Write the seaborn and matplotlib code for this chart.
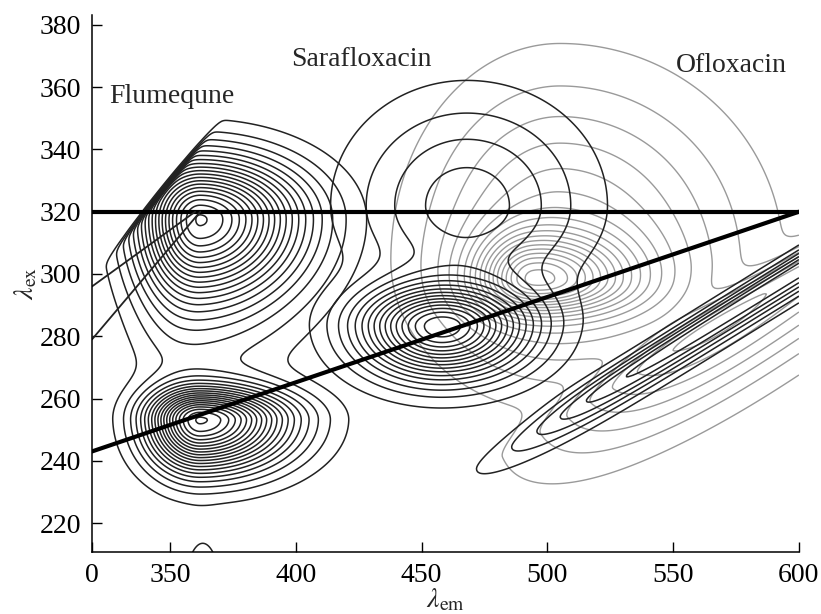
import matplotlib
matplotlib.use("Agg")
import matplotlib.pyplot as plt
import numpy as np
import seaborn as sns

# Peak parameters:
# (center em, center ex, height, sigma left, sigma right, sigma down, sigma up)
flu_peaks = [
    (362, 318, 98, 16, 27, 17, 13),    # Flumequne, upper band
    (362, 253, 98, 14, 24, 11, 7),     # Flumequne, lower band
    (355, 285, 10, 15, 30, 20, 20),    # weak base joining both bands
    (363, 200, 12, 5, 5, 10, 10),      # small bump at bottom edge
]
sara_peaks = [
    (458, 283, 82, 22, 23, 11, 9),     # Sarafloxacin, main
    (468, 322, 23, 31, 32, 18, 23),    # Sarafloxacin, broad upper band
]
oflo_peaks = [
    (494, 298, 60, 15, 25, 7, 10),     # Ofloxacin core
    (505, 305, 35, 34, 45, 25, 35),    # Ofloxacin broad base
]
# second-order scatter ridge (em = 2 ex):
# height, onset em, onset width, sigma below, sigma above, offset
sara_ridge = (34, 500, 16, 5.5, 4, 1.5)
oflo_ridge = (30, 520, 20, 16, 5, 0)
cut_offset = 20  # no signal where em < ex + 20

levels = np.arange(5, 101, 5)

# straight reference lines (em, ex)
hline_em = [319, 600]
hline_ex = [320, 320]
diag_em = [319, 600]
diag_ex = [243, 320]
thin1_em = [319, 360]
thin1_ex = [296, 320]
thin2_em = [319, 362]
thin2_ex = [279, 320]

labels = ["Flumequne", "Sarafloxacin", "Ofloxacin"]
label_em = [326, 398, 551]
label_ex = [357, 369, 367]

xticks = [319, 350, 400, 450, 500, 550, 600]
xticklabels = ["0", "350", "400", "450", "500", "550", "600"]
yticks = [220, 240, 260, 280, 300, 320, 340, 360, 380]


def peak(X, Y, p):
    x0, y0, a, sl, sr, sd, su = p
    sx = np.where(X < x0, sl, sr)
    sy = np.where(Y < y0, sd, su)
    return a * np.exp(-0.5 * ((X - x0) / sx) ** 2 - 0.5 * ((Y - y0) / sy) ** 2)


def ridge(X, Y, r):
    a, e0, w, sd, su, d0 = r
    d = Y - X / 2 - d0
    s = np.where(d < 0, sd, su)
    return a / (1 + np.exp(-(X - e0) / w)) * np.exp(-0.5 * (d / s) ** 2)


em = np.arange(319, 600.5, 0.5)
ex = np.arange(205, 386, 0.5)
X, Y = np.meshgrid(em, ex)

Zf = sum(peak(X, Y, p) for p in flu_peaks)
Zf = Zf / (1 + np.exp(-(X - Y - cut_offset) / 0.6))
Zs = sum(peak(X, Y, p) for p in sara_peaks) + ridge(X, Y, sara_ridge)
Zo = sum(peak(X, Y, p) for p in oflo_peaks) + ridge(X, Y, oflo_ridge)

sns.set_theme(style="ticks")
plt.rcParams["font.family"] = ["Liberation Serif", "DejaVu Serif"]
plt.rcParams["mathtext.fontset"] = "stix"

fig = plt.figure(figsize=(8.21, 6.14), dpi=100)
ax = fig.add_axes([0.1121, 0.101, 0.861, 0.8746])

ax.contour(X, Y, Zo, levels=levels, colors="#9a9a9a", linewidths=1.0)
ax.contour(X, Y, Zs, levels=levels, colors="#222222", linewidths=1.1)
ax.contour(X, Y, Zf, levels=levels, colors="#222222", linewidths=1.1)

sns.lineplot(x=hline_em, y=hline_ex, color="black", lw=3, ax=ax, sort=False, estimator=None)
sns.lineplot(x=diag_em, y=diag_ex, color="black", lw=3, ax=ax, sort=False, estimator=None)
sns.lineplot(x=thin1_em, y=thin1_ex, color="#222222", lw=1.3, ax=ax, sort=False, estimator=None)
sns.lineplot(x=thin2_em, y=thin2_ex, color="#222222", lw=1.3, ax=ax, sort=False, estimator=None)

for t, x, y in zip(labels, label_em, label_ex):
    ax.text(x, y, t, fontsize=20, va="center", ha="left")

ax.set_xlim(319, 600)
ax.set_ylim(210.7, 383.2)
ax.set_xticks(xticks)
ax.set_xticklabels(xticklabels)
ax.set_yticks(yticks)
ax.tick_params(direction="in", length=7, width=1, labelsize=20, colors="black", pad=8)
sns.despine(ax=ax)
for s in ["left", "bottom"]:
    ax.spines[s].set_color("black")
    ax.spines[s].set_linewidth(1.1)

ax.set_xlabel(r"$\lambda_{\rm em}$", fontsize=20, labelpad=-1)
ax.set_ylabel(r"$\lambda_{\rm ex}$", fontsize=20, labelpad=0)

fig.savefig("out.png", dpi=100)
